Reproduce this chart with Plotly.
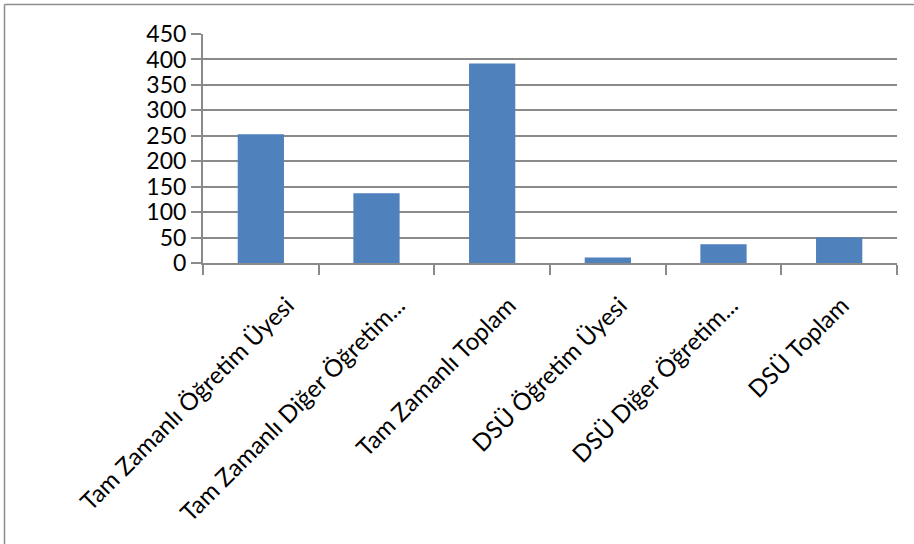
import plotly.graph_objects as go

categories = [
    "Tam Zamanlı Öğretim Üyesi",
    "Tam Zamanlı Diğer Öğretim...",
    "Tam Zamanlı Toplam",
    "DSÜ Öğretim Üyesi",
    "DSÜ Diğer Öğretim...",
    "DSÜ Toplam",
]
values = [253, 137, 392, 11, 37, 50]
y_ticks = [0, 50, 100, 150, 200, 250, 300, 350, 400, 450]

W, H = 914, 544
ml, mr, mt, mb = 203, 17, 34, 281
pw = W - ml - mr
ph = H - mt - mb

# label row (drawn on a second category axis with slightly tighter spacing)
label_spacing = 111.0
first_center = 260.0
d0 = (first_center - label_spacing / 2 - ml) / pw
d1 = d0 + label_spacing * len(categories) / pw

fig = go.Figure()
fig.add_trace(go.Bar(x=categories, y=values, marker=dict(color="#4f81bd", line=dict(width=0)),
                     width=0.4, xaxis="x", yaxis="y", hoverinfo="x+y"))
fig.add_trace(go.Bar(x=categories, y=values, marker=dict(color="rgba(0,0,0,0)", line=dict(width=0)),
                     width=0.4, xaxis="x2", yaxis="y2", hoverinfo="skip", showlegend=False))

grid = "#8a8a8a"
fig.update_layout(
    width=W, height=H,
    margin=dict(l=ml, r=mr, t=mt, b=mb, autoexpand=False),
    paper_bgcolor="white", plot_bgcolor="rgba(0,0,0,0)",
    font=dict(family="Lato, 'Open Sans', sans-serif", size=23, color="black"),
    showlegend=False,
    bargap=0.6,
    xaxis=dict(
        domain=[0, 1], showgrid=False, showline=True, linecolor=grid, linewidth=2,
        ticks="outside", ticklen=10, tickcolor=grid, tickwidth=2,
        tickson="boundaries", showticklabels=False, automargin=False,
    ),
    xaxis2=dict(
        domain=[d0, d1], anchor="y2", showgrid=False, showline=False, zeroline=False,
        ticks="outside", ticklen=10, tickcolor="rgba(0,0,0,0)",
        tickangle=-45, tickfont=dict(size=24, color="black"), automargin=False,
        ticklabelshift=27, ticklabelstandoff=8, fixedrange=True,
    ),
    yaxis=dict(
        range=[0, 450], tickvals=y_ticks, showgrid=True, gridcolor=grid, gridwidth=2,
        showline=True, linecolor=grid, linewidth=2, zeroline=False,
        ticks="outside", ticklen=10, tickcolor=grid, tickwidth=2,
        tickfont=dict(size=23), automargin=False, ticklabelstandoff=0,
    ),
    yaxis2=dict(range=[0, 450], domain=[0, 1], anchor="x2", visible=False,
                showgrid=False, fixedrange=True),
)

x_left = (4.5 - ml) / pw
y_top = (H - mb - 4.5) / ph
fig.add_shape(type="line", xref="paper", yref="paper", x0=x_left, x1=1.2, y0=y_top, y1=y_top,
              line=dict(color="#8c8c8c", width=1.5))
fig.add_shape(type="line", xref="paper", yref="paper", x0=x_left, x1=x_left, y0=y_top, y1=-1.5,
              line=dict(color="#8c8c8c", width=1.5))

fig.write_html("out.html")
